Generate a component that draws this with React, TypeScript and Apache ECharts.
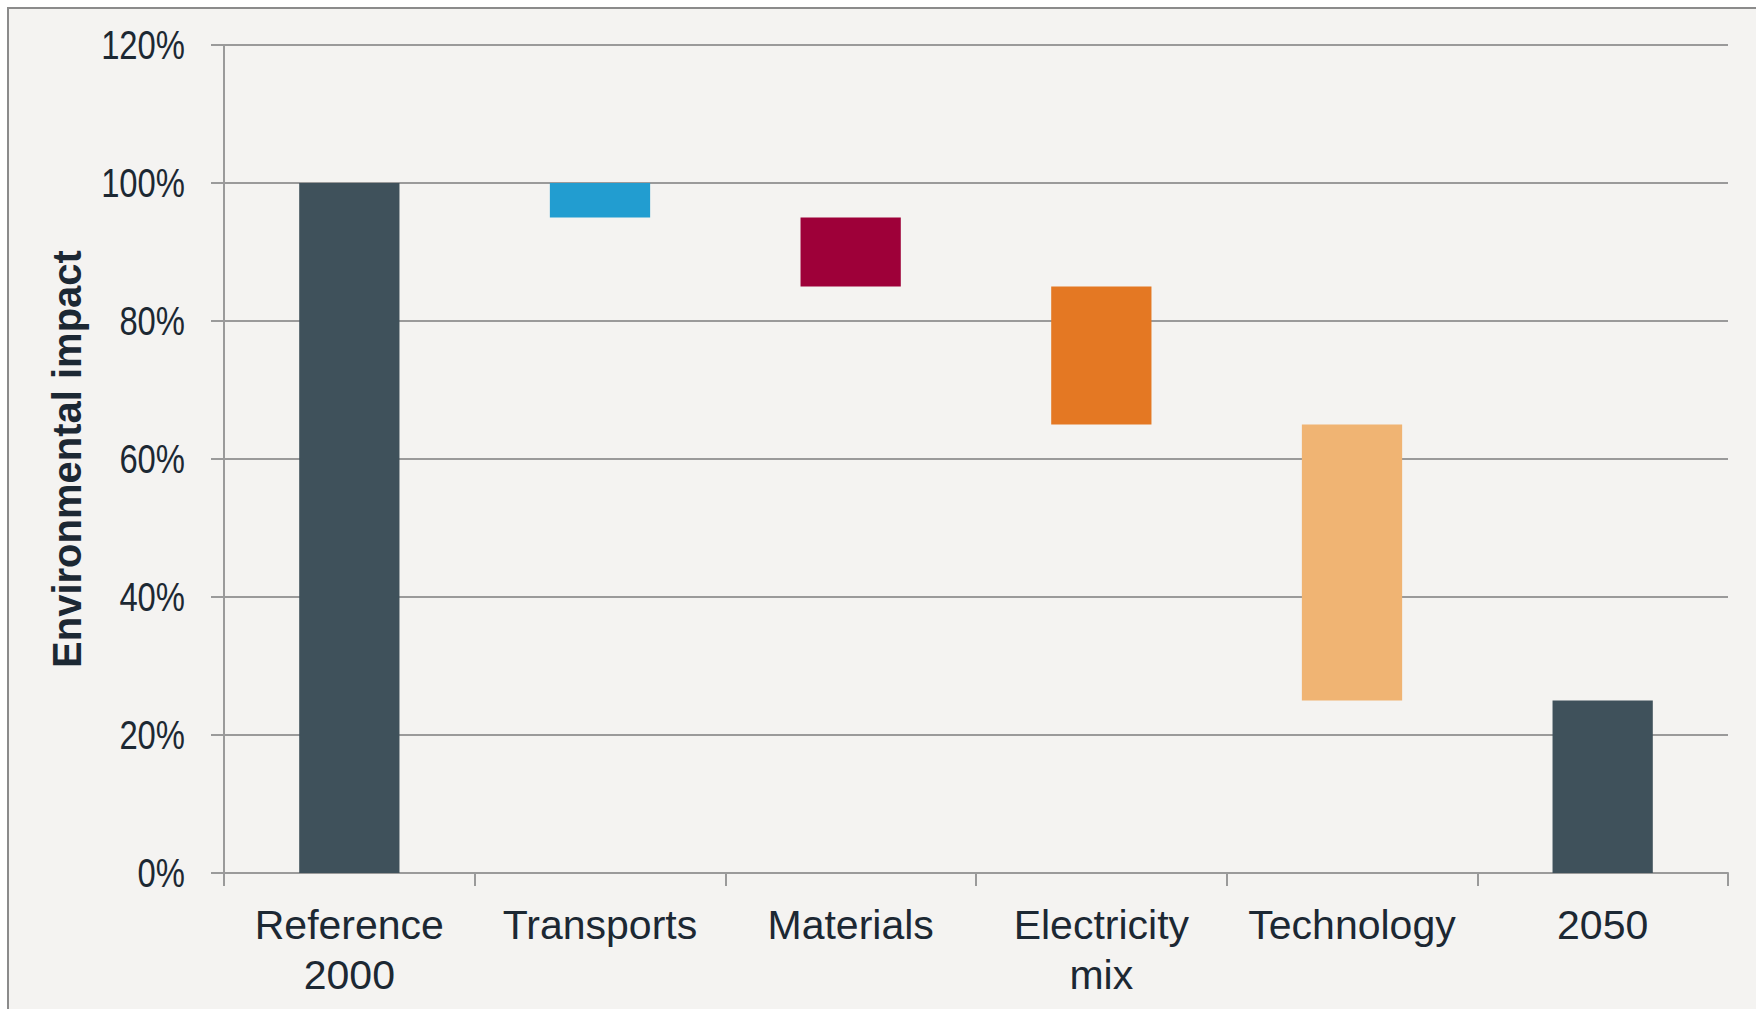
import React, { useEffect, useRef } from "react";
import * as echarts from "echarts";

const categories = ["Reference\n2000", "Transports", "Materials", "Electricity\nmix", "Technology", "2050"];
// invisible base of each floating bar (%)
const bases = [0, 95, 85, 65, 25, 0];
// visible height of each bar (%)
const heights = [100, 5, 10, 20, 40, 25];
const barColors = ["#3F515B", "#229DD0", "#9E0039", "#E47823", "#F0B473", "#3F515B"];
const yTicks = [0, 20, 40, 60, 80, 100, 120];
const yTickLabels = ["0%", "20%", "40%", "60%", "80%", "100%", "120%"];

const textColor = "#1C2833";
const gridColor = "#9A9A9A";
const FONT = "'Liberation Sans', Arial, sans-serif";
const GRID_LEFT = 224;

export default function App() {
  const ref = useRef<HTMLDivElement>(null);
  useEffect(() => {
    if (!ref.current) return;
    const chart = echarts.init(ref.current, undefined, { renderer: "svg" });
    const frame = {
      type: "rect",
      z: -10,
      silent: true,
      shape: { x: 8, y: 8, width: 1800, height: 1100 },
      style: { fill: "#F4F3F1", stroke: "#8B8B8B", lineWidth: 2 },
    };
    chart.setOption({
      animation: false,
      backgroundColor: "#ffffff",
      graphic: [frame],
      grid: { left: GRID_LEFT, top: 45, right: 28, bottom: 136, containLabel: false },
      xAxis: {
        type: "category",
        data: categories,
        axisLine: { show: true, lineStyle: { color: gridColor, width: 2 } },
        axisTick: { show: true, length: 13, lineStyle: { color: gridColor, width: 2 } },
        axisLabel: {
          margin: 27,
          color: textColor,
          fontSize: 41,
          lineHeight: 50,
          fontFamily: FONT,
          interval: 0,
        },
      },
      yAxis: {
        type: "value",
        min: yTicks[0],
        max: yTicks[yTicks.length - 1],
        interval: 20,
        name: "Environmental impact",
        nameLocation: "middle",
        nameGap: 137,
        nameTextStyle: {
          color: textColor,
          fontSize: 40,
          fontWeight: "bold",
          fontFamily: FONT,
        },
        axisLine: { show: true, lineStyle: { color: gridColor, width: 2 } },
        axisTick: { show: true, length: 13, lineStyle: { color: gridColor, width: 2 } },
        splitLine: { show: true, lineStyle: { color: gridColor, width: 2 } },
        axisLabel: { show: false },
      },
      series: [
        {
          type: "bar",
          stack: "w",
          data: bases,
          barWidth: "40%",
          itemStyle: { color: "transparent" },
          silent: true,
        },
        {
          type: "bar",
          stack: "w",
          barWidth: "40%",
          data: heights.map((v, i) => ({ value: v, itemStyle: { color: barColors[i] } })),
        },
      ],
    });
    // y tick labels in a condensed form, placed through the axis scale
    const labelTexts = yTicks.map((v, i) => {
      const y = chart.convertToPixel({ yAxisIndex: 0 }, v) as number;
      return {
        type: "text",
        x: GRID_LEFT - 39,
        y,
        scaleX: 0.8,
        silent: true,
        style: {
          text: yTickLabels[i],
          fill: textColor,
          font: `41px ${FONT}`,
          textAlign: "right",
          textVerticalAlign: "middle",
        },
      };
    });
    chart.setOption({ graphic: [frame, ...labelTexts] });
    return () => chart.dispose();
  }, []);
  return (
    <div
      ref={ref}
      style={{ position: "fixed", left: 0, top: 0, width: 1756, height: 1009 }}
    />
  );
}
